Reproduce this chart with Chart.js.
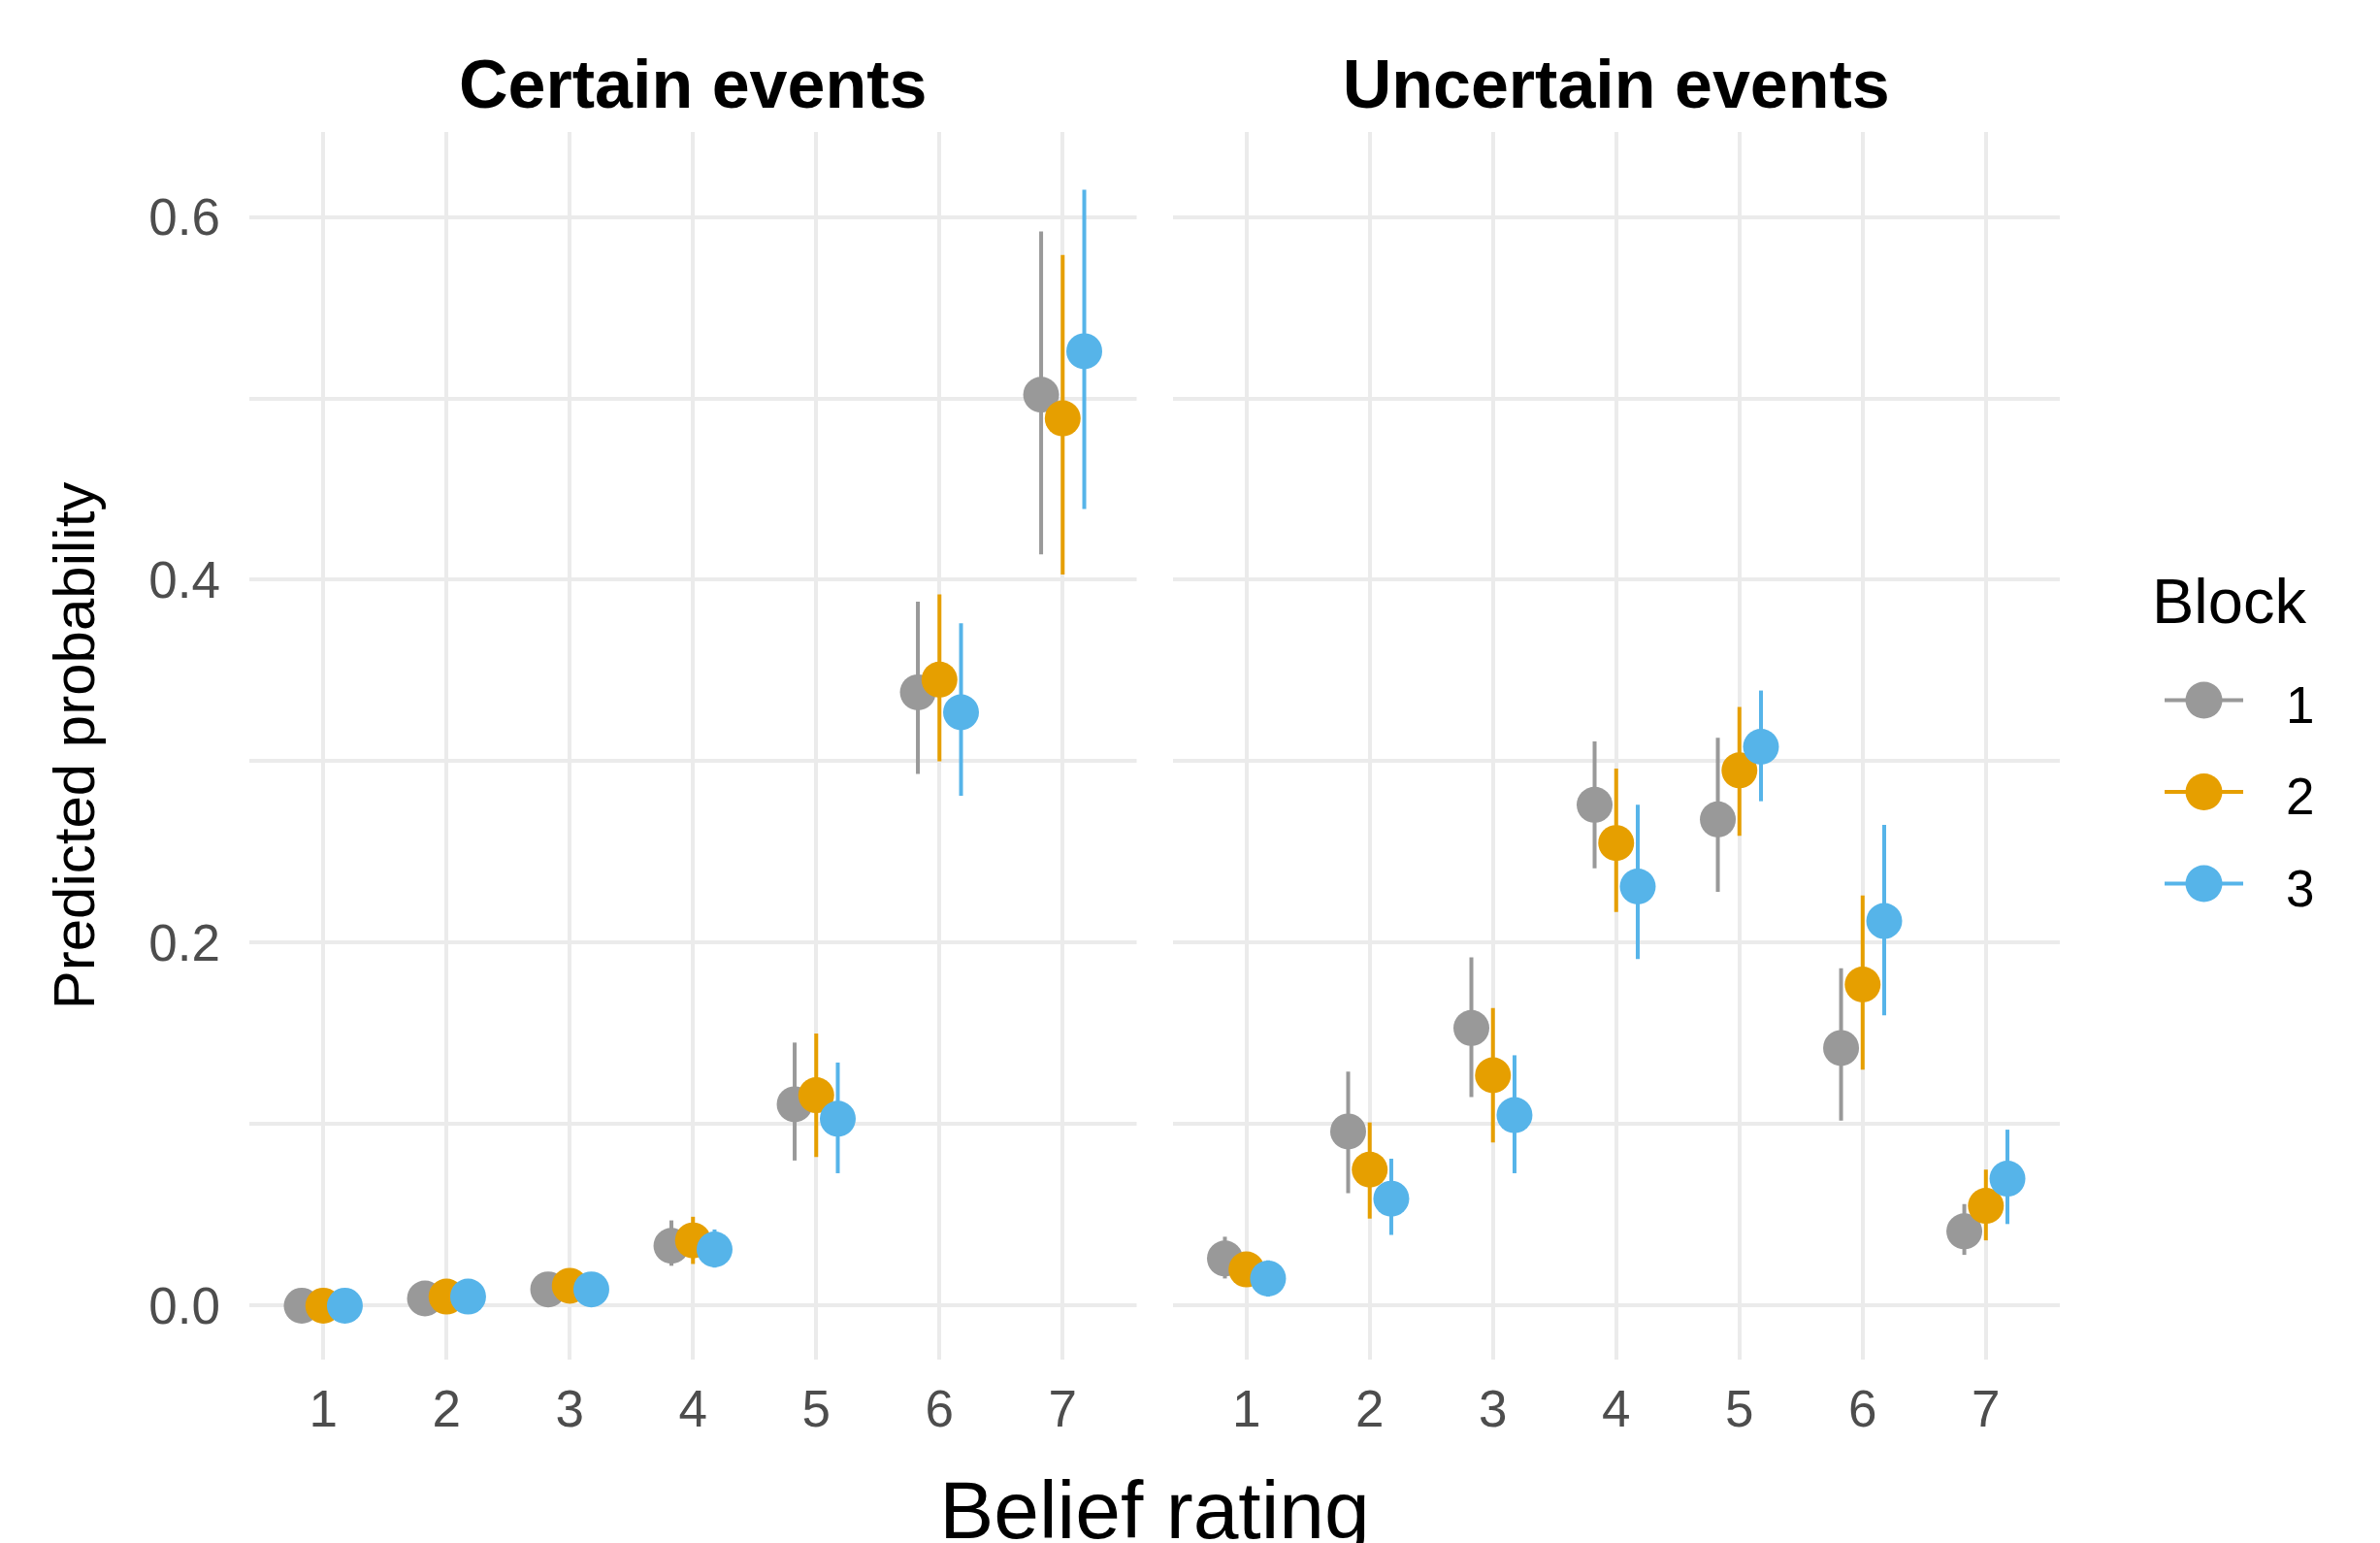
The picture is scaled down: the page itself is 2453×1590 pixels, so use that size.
<!DOCTYPE html>
<html>
<head>
<meta charset="utf-8">
<script src="https://cdn.jsdelivr.net/npm/chart.js@4.4.1/dist/chart.umd.min.js"></script>
<style>
  html, body { margin: 0; padding: 0; background: #fff; overflow: hidden; }
  #page { position: relative; width: 2453px; height: 1590px; overflow: hidden; }
  canvas { position: absolute; top: 0; }
  #certain { left: 0; }
  #uncertain { left: 1190px; }
  #xtitle { position: absolute; left: 690px; width: 1000px; top: 1514px; text-align: center;
            font: 84px/1 "Liberation Sans", Arial, sans-serif; color: #000; white-space: nowrap; }
</style>
</head>
<body>
<div id="page">
  <canvas id="certain" width="1190" height="1590"></canvas>
  <canvas id="uncertain" width="1263" height="1590"></canvas>
  <div id="xtitle">Belief rating</div>
</div>
<script>
// Categories and tick labels
const ratings = [1, 2, 3, 4, 5, 6, 7];
const xTickLabels = ["1", "2", "3", "4", "5", "6", "7"];
const blocks = ["1", "2", "3"];
const yTickValues = [0, 0.1, 0.2, 0.3, 0.4, 0.5, 0.6];
const yTickLabels = ["0.0", "", "0.2", "", "0.4", "", "0.6"];

// Certain events - predicted probability with interval, per block
const certainMean1 = [0.000, 0.004, 0.009, 0.033, 0.111, 0.338, 0.502];
const certainLow1  = [0.000, 0.002, 0.006, 0.022, 0.080, 0.293, 0.414];
const certainHigh1 = [0.001, 0.007, 0.013, 0.047, 0.145, 0.388, 0.592];
const certainMean2 = [0.000, 0.005, 0.011, 0.036, 0.116, 0.345, 0.489];
const certainLow2  = [0.000, 0.003, 0.007, 0.023, 0.082, 0.300, 0.403];
const certainHigh2 = [0.001, 0.008, 0.016, 0.049, 0.150, 0.392, 0.579];
const certainMean3 = [0.000, 0.005, 0.009, 0.031, 0.103, 0.327, 0.526];
const certainLow3  = [0.000, 0.003, 0.006, 0.021, 0.073, 0.281, 0.439];
const certainHigh3 = [0.001, 0.007, 0.013, 0.042, 0.134, 0.376, 0.615];

// Uncertain events
const uncertainMean1 = [0.026, 0.096, 0.153, 0.276, 0.268, 0.142, 0.041];
const uncertainLow1  = [0.015, 0.062, 0.115, 0.241, 0.228, 0.102, 0.028];
const uncertainHigh1 = [0.038, 0.129, 0.192, 0.311, 0.313, 0.186, 0.056];
const uncertainMean2 = [0.020, 0.075, 0.127, 0.255, 0.295, 0.177, 0.055];
const uncertainLow2  = [0.011, 0.048, 0.090, 0.217, 0.259, 0.130, 0.036];
const uncertainHigh2 = [0.029, 0.101, 0.164, 0.296, 0.330, 0.226, 0.075];
const uncertainMean3 = [0.015, 0.059, 0.105, 0.231, 0.308, 0.212, 0.070];
const uncertainLow3  = [0.005, 0.039, 0.073, 0.191, 0.278, 0.160, 0.045];
const uncertainHigh3 = [0.025, 0.081, 0.138, 0.276, 0.339, 0.265, 0.097];

const blockColors = ["#999999", "#E69F00", "#56B4E9"];
const DODGE = 0.175;
const FONT = "'Liberation Sans', Arial, sans-serif";
const GRID = { color: "#EBEBEB", lineWidth: 4, drawTicks: false };

Chart.defaults.font.family = FONT;

function makeDatasets(means, lows, highs) {
    return blocks.map((b, k) => ({
        label: b,
        data: ratings.map((r, i) => ({ x: r + (k - 1) * DODGE, y: means[k][i], lo: lows[k][i], hi: highs[k][i] })),
        backgroundColor: blockColors[k],
        borderColor: blockColors[k],
        pointRadius: 18.5,
        pointHoverRadius: 18.5,
        pointBorderWidth: 0,
        order: blocks.length - k
    }));
}

// vertical interval line drawn under each block's points
const errorBars = {
    id: "errorBars",
    beforeDatasetDraw(chart, args) {
        const ds = chart.data.datasets[args.index];
        const y = chart.scales.y;
        const ctx = chart.ctx;
        ctx.save();
        ctx.strokeStyle = ds.borderColor;
        ctx.lineWidth = 4;
        args.meta.data.forEach((pt, i) => {
            const d = ds.data[i];
            ctx.beginPath();
            ctx.moveTo(pt.x, y.getPixelForValue(d.lo));
            ctx.lineTo(pt.x, y.getPixelForValue(d.hi));
            ctx.stroke();
        });
        ctx.restore();
    }
};

// ggplot style legend: line through point, with "Block" title
const blockLegend = {
    id: "blockLegend",
    afterDraw(chart) {
        const ctx = chart.ctx;
        const x0 = chart.chartArea.right;
        ctx.save();
        ctx.fillStyle = "#000";
        ctx.textBaseline = "alphabetic";
        ctx.font = "65px " + FONT;
        ctx.fillText("Block", x0 + 95, 642);
        ctx.font = "53px " + FONT;
        chart.data.datasets.forEach((ds, k) => {
            const ky = 721.5 + k * 94.5;
            ctx.strokeStyle = ds.borderColor;
            ctx.lineWidth = 4;
            ctx.beginPath();
            ctx.moveTo(x0 + 108, ky);
            ctx.lineTo(x0 + 189, ky);
            ctx.stroke();
            ctx.fillStyle = ds.backgroundColor;
            ctx.beginPath();
            ctx.arc(x0 + 148.5, ky, 19, 0, Math.PI * 2);
            ctx.fill();
            ctx.fillStyle = "#000";
            ctx.fillText(ds.label, x0 + 233, ky + 23);
        });
        ctx.restore();
    }
};

function makeOptions(title, showY, padRight) {
    return {
        responsive: false,
        animation: false,
        events: [],
        layout: { padding: { left: 0, right: padRight, top: 0, bottom: 0 } },
        plugins: {
            legend: { display: false },
            tooltip: { enabled: false },
            title: {
                display: true, text: title, fullSize: false, color: "#000",
                font: { size: 70, weight: "bold", lineHeight: 1.2 },
                padding: { top: 50, bottom: 2 }
            }
        },
        scales: {
            x: {
                type: "linear", min: 0.4, max: 7.6,
                afterBuildTicks: s => { s.ticks = ratings.map(v => ({ value: v })); },
                afterFit: s => { s.height = 189; },
                grid: GRID,
                border: { display: false },
                ticks: {
                    color: "#4D4D4D", font: { size: 53 }, padding: 23, maxRotation: 0, autoSkip: false,
                    callback: v => xTickLabels[ratings.indexOf(v)]
                }
            },
            y: {
                type: "linear", min: -0.0297, max: 0.6468,
                afterBuildTicks: s => { s.ticks = yTickValues.map(v => ({ value: v })); },
                afterFit: s => { s.width = showY ? 257 : 15; },
                grid: GRID,
                border: { display: false },
                ticks: {
                    display: showY, color: "#4D4D4D", font: { size: 53 }, padding: 30, labelOffset: 4,
                    callback: (v, i) => yTickLabels[i]
                },
                title: {
                    display: showY, text: "Predicted probability", color: "#000",
                    font: { size: 60 }, padding: { top: 44, bottom: 0 }
                }
            }
        }
    };
}

new Chart(document.getElementById("certain"), {
    type: "scatter",
    data: {
        datasets: makeDatasets(
            [certainMean1, certainMean2, certainMean3],
            [certainLow1, certainLow2, certainLow3],
            [certainHigh1, certainHigh2, certainHigh3])
    },
    options: makeOptions("Certain events", true, 16),
    plugins: [errorBars]
});

new Chart(document.getElementById("uncertain"), {
    type: "scatter",
    data: {
        datasets: makeDatasets(
            [uncertainMean1, uncertainMean2, uncertainMean3],
            [uncertainLow1, uncertainLow2, uncertainLow3],
            [uncertainHigh1, uncertainHigh2, uncertainHigh3])
    },
    options: makeOptions("Uncertain events", false, 330),
    plugins: [errorBars, blockLegend]
});
</script>
</body>
</html>
